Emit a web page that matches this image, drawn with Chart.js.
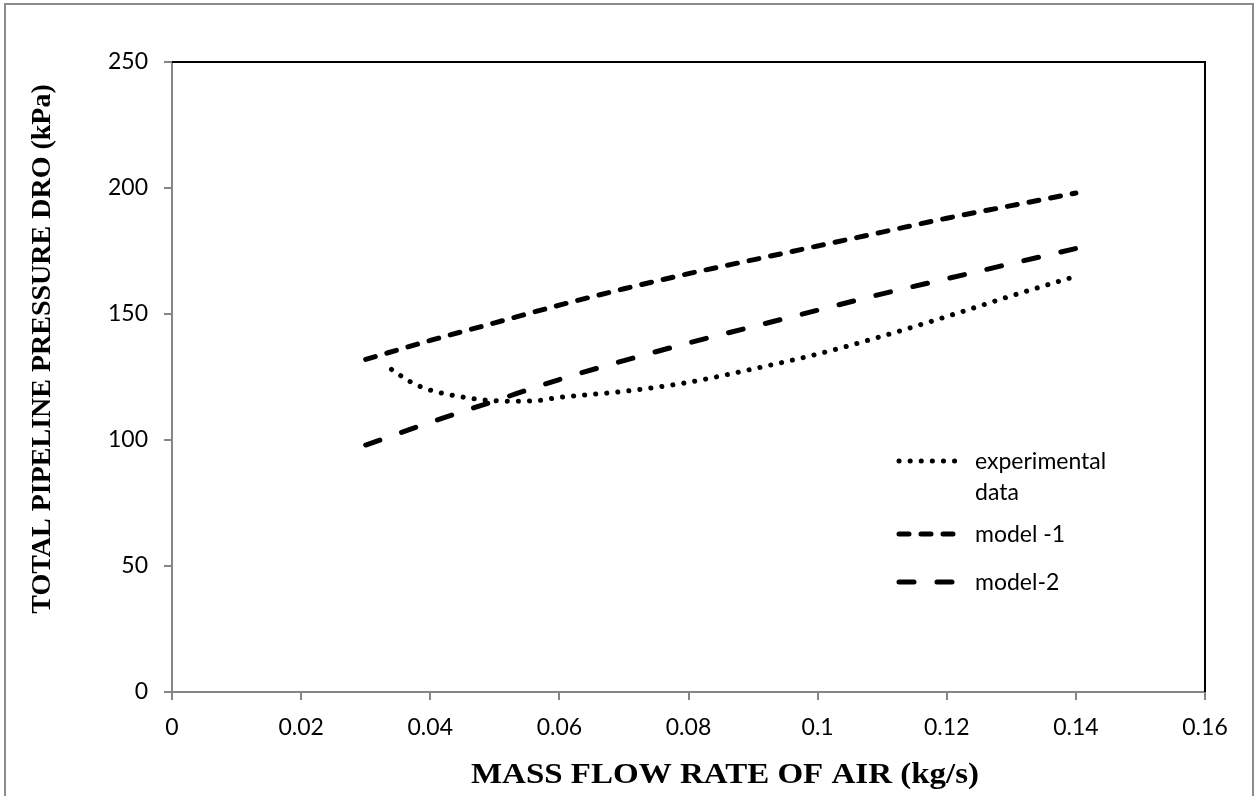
<!DOCTYPE html>
<html>
<head>
<meta charset="utf-8">
<script src="https://cdn.jsdelivr.net/npm/chart.js"></script>
<style>
  html, body { margin: 0; padding: 0; background: #fff; }
  #wrap { width: 1255px; height: 796px; }
</style>
</head>
<body>
<div id="wrap"><canvas id="myChart" width="1255" height="796"></canvas></div>
<script>
// values
const expX = [0.034, 0.037, 0.04, 0.044, 0.048, 0.052, 0.056, 0.06, 0.07, 0.08, 0.09, 0.10, 0.11, 0.12, 0.13, 0.14];
const expY = [128, 123, 119.8, 117.5, 116, 115.4, 115.5, 116.9, 119.3, 122.9, 128.2, 134.1, 141.2, 149, 157.2, 165];
const modelX = [0.03, 0.04, 0.05, 0.06, 0.07, 0.08, 0.09, 0.10, 0.11, 0.12, 0.13, 0.14];
const model1Y = [132, 139.5, 146.5, 153.5, 160, 166, 171.5, 177, 182.5, 188, 193, 198];
const model2Y = [98, 107, 115.5, 124, 131.5, 138.5, 145, 151.5, 158, 164, 170, 176];
const legendLabels = [['experimental', 'data'], ['model -1'], ['model-2']];
const xTicks = [0, 0.02, 0.04, 0.06, 0.08, 0.1, 0.12, 0.14, 0.16];
const yTicks = [0, 50, 100, 150, 200, 250];
const xTitle = 'MASS FLOW RATE OF AIR (kg/s)';
const yTitle = 'TOTAL PIPELINE PRESSURE DRO (kPa)';

const pts = (xs, ys) => xs.map((x, i) => ({ x: x, y: ys[i] }));

const dotStyle = { borderDash: [0.1, 11], borderWidth: 5 };
const dash1Style = { borderDash: [10, 12], borderWidth: 5 };
const dash2Style = { borderDash: [15, 23], borderWidth: 5 };

// frame around the whole picture, black top/right plot border, axis titles
const framePlugin = {
  id: 'frame',
  beforeDraw(chart) {
    const c = chart.ctx;
    c.save();
    c.fillStyle = '#fff';
    c.fillRect(0, 0, chart.width, chart.height);
    c.strokeStyle = '#8c8c8c';
    c.lineWidth = 2;
    c.strokeRect(5, 4, 1248, 820);
    c.restore();
  },
  afterDatasetsDraw(chart) {
    const a = chart.chartArea;
    const c = chart.ctx;
    c.save();
    c.strokeStyle = '#000';
    c.lineWidth = 2;
    c.beginPath();
    c.moveTo(a.left, a.top);
    c.lineTo(a.right, a.top);
    c.lineTo(a.right, a.bottom);
    c.stroke();

    c.fillStyle = '#000';
    c.textAlign = 'center';
    c.textBaseline = 'middle';
    c.save();
    c.font = 'bold 30px "Liberation Serif"';
    c.translate(725, 775);
    c.scale(1.1, 1);
    c.fillText(xTitle, 0, 0);
    c.restore();

    c.save();
    c.font = 'bold 28px "Liberation Serif"';
    c.translate(43, 349);
    c.rotate(-Math.PI / 2);
    c.fillText(yTitle, 0, 0);
    c.restore();
    c.restore();
  }
};

// legend drawn inside the plot like the original
const legendPlugin = {
  id: 'inLegend',
  afterDraw(chart) {
    const c = chart.ctx;
    const rows = [461, 534, 582];
    c.save();
    chart.data.datasets.forEach((ds, i) => {
      const y = rows[i];
      c.strokeStyle = '#000';
      c.lineWidth = ds.borderWidth;
      c.lineCap = 'round';
      c.setLineDash(ds.borderDash);
      c.beginPath();
      c.moveTo(899, y);
      c.lineTo(960, y);
      c.stroke();
      c.setLineDash([]);
      c.fillStyle = '#000';
      c.font = '23px Lato';
      c.textBaseline = 'middle';
      legendLabels[i].forEach((t, k) => c.fillText(t, 975, y + 1 + k * 31));
    });
    c.restore();
  }
};

const ctx = document.getElementById('myChart').getContext('2d');
const myChart = new Chart(ctx, {
  type: 'scatter',
  data: {
    datasets: [
      Object.assign({ label: 'experimental data', data: pts(expX, expY) }, dotStyle),
      Object.assign({ label: 'model -1', data: pts(modelX, model1Y) }, dash1Style),
      Object.assign({ label: 'model-2', data: pts(modelX, model2Y) }, dash2Style)
    ].map(d => Object.assign(d, {
      showLine: true, pointRadius: 0, borderColor: '#000', borderCapStyle: 'round',
      tension: 0.4, cubicInterpolationMode: 'monotone', fill: false
    }))
  },
  options: {
    responsive: false,
    animation: false,
    layout: { padding: { left: 6, right: 50, top: 62, bottom: 0 } },
    plugins: { legend: { display: false }, tooltip: { enabled: false } },
    scales: {
      x: {
        type: 'linear', min: 0, max: 0.16,
        afterBuildTicks: s => { s.ticks = xTicks.map(v => ({ value: v })); },
        afterFit: s => { s.height = 104; },
        grid: { drawOnChartArea: false, color: '#868686', tickLength: 8, lineWidth: 2 },
        border: { color: '#868686', width: 2 },
        ticks: { color: '#000', font: { family: 'Lato', size: 23 }, padding: 14, maxRotation: 0,
                 callback: v => String(v) }
      },
      y: {
        type: 'linear', min: 0, max: 250,
        afterBuildTicks: s => { s.ticks = yTicks.map(v => ({ value: v })); },
        afterFit: s => { s.width = 166; },
        grid: { drawOnChartArea: false, color: '#868686', tickLength: 8, lineWidth: 2 },
        border: { color: '#868686', width: 2 },
        ticks: { color: '#000', font: { family: 'Lato', size: 23 }, padding: 16 }
      }
    }
  },
  plugins: [framePlugin, legendPlugin]
});
</script>
</body>
</html>
